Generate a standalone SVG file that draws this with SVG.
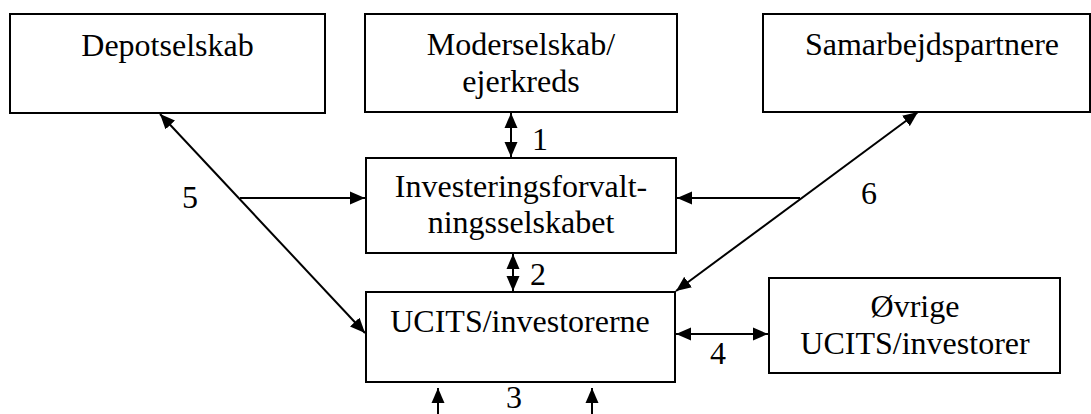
<svg xmlns="http://www.w3.org/2000/svg" width="1091" height="414" viewBox="0 0 1091 414">
<style>
.box{fill:#fff;stroke:#000;stroke-width:2}
.t{font-family:'Liberation Serif','Times New Roman','DejaVu Serif',serif;font-size:32px;fill:#000;text-anchor:middle}
.c{fill:none;stroke:#000;stroke-width:2}
</style>
<defs>
<marker id="ah" markerUnits="userSpaceOnUse" markerWidth="16" markerHeight="14" refX="15" refY="7" orient="auto-start-reverse">
<path d="M0,0.5 L15,7 L0,13.5 z" fill="#000"/>
</marker>
</defs>
<rect width="1091" height="414" fill="#fff"/>
<g class="t" font-family="Liberation Serif, Times New Roman, serif">
<g id="depotselskab"><rect class="box" x="10" y="14" width="315" height="99"/><text x="167.5" y="56">Depotselskab</text></g>
<g id="moderselskab"><rect class="box" x="365" y="14" width="312" height="98"/><text x="521" y="55">Moderselskab/</text><text x="521" y="92">ejerkreds</text></g>
<g id="samarbejdspartnere"><rect class="box" x="763" y="14" width="327" height="98"/><text x="932" y="55">Samarbejdspartnere</text></g>
<g id="investeringsforvaltningsselskabet"><rect class="box" x="366" y="158" width="310" height="95"/><text x="521" y="197">Investeringsforvalt-</text><text x="521" y="233">ningsselskabet</text></g>
<g id="ucits"><rect class="box" x="366" y="292" width="309" height="90"/><text x="520" y="332">UCITS/investorerne</text></g>
<g id="ovrige"><rect class="box" x="769" y="278" width="291" height="95"/><text x="915" y="317">Øvrige</text><text x="915" y="354">UCITS/investorer</text></g>
<g id="connectors">
<line class="c" x1="511" y1="113" x2="511" y2="157" marker-start="url(#ah)" marker-end="url(#ah)"/>
<line class="c" x1="513" y1="254" x2="513" y2="291" marker-start="url(#ah)" marker-end="url(#ah)"/>
<line class="c" x1="160" y1="114" x2="365" y2="333" marker-start="url(#ah)" marker-end="url(#ah)"/>
<line class="c" x1="240" y1="198" x2="365" y2="198" marker-end="url(#ah)"/>
<line class="c" x1="918" y1="112" x2="676" y2="291" marker-start="url(#ah)" marker-end="url(#ah)"/>
<line class="c" x1="800" y1="198" x2="677" y2="198" marker-end="url(#ah)"/>
<line class="c" x1="676" y1="334" x2="768" y2="334" marker-start="url(#ah)" marker-end="url(#ah)"/>
<line class="c" x1="438" y1="414" x2="438" y2="388" marker-end="url(#ah)"/>
<line class="c" x1="592" y1="414" x2="592" y2="388" marker-end="url(#ah)"/>
<text x="540" y="150">1</text>
<text x="538" y="285">2</text>
<text x="514" y="408">3</text>
<text x="718" y="364">4</text>
<text x="190" y="208">5</text>
<text x="869" y="204">6</text>
</g>
</g>
</svg>
